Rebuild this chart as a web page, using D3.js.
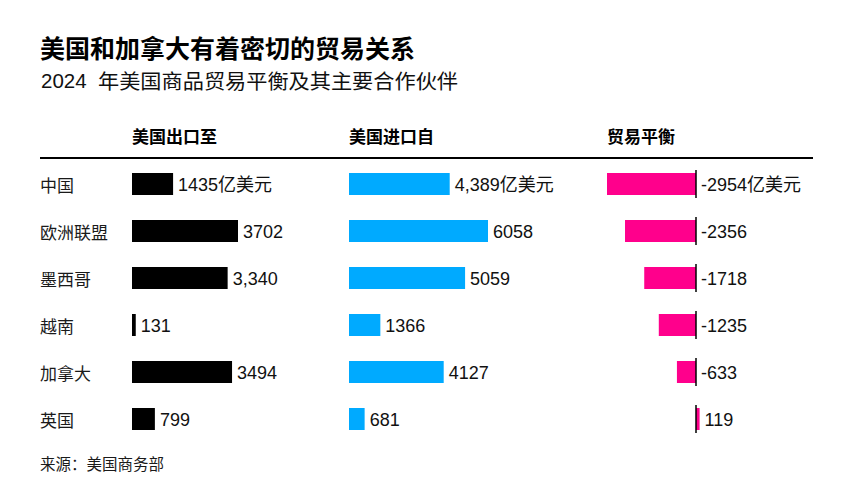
<!DOCTYPE html>
<html>
<head>
<meta charset="utf-8">
<script src="https://cdn.jsdelivr.net/npm/d3@7"></script>
<style>
  html, body { margin: 0; padding: 0; background: #fff; }
  svg { display: block; }
</style>
</head>
<body>
<div id="chart"></div>
<script>
const categories = ["中国", "欧洲联盟", "墨西哥", "越南", "加拿大", "英国"];
const exportsVals = [1435, 3702, 3340, 131, 3494, 799];
const importsVals = [4389, 6058, 5059, 1366, 4127, 681];
const balanceVals = [-2954, -2356, -1718, -1235, -633, 119];
const exportLabels = ["1435亿美元", "3702", "3,340", "131", "3494", "799"];
const importLabels = ["4,389亿美元", "6058", "5059", "1366", "4127", "681"];
const balanceLabels = ["-2954亿美元", "-2356", "-1718", "-1235", "-633", "119"];
const headers = ["美国出口至", "美国进口自", "贸易平衡"];
const title = "美国和加拿大有着密切的贸易关系";
const subtitleYear = "2024";
const subtitleText = "年美国商品贸易平衡及其主要合作伙伴";
const source = "来源：美国商务部";

const W = 864, H = 496;
const CJK = "'Noto Sans CJK SC', 'Noto Sans', sans-serif";
const NUM = "'Liberation Sans', Arial, 'Noto Sans CJK SC', sans-serif";

const svg = d3.select("#chart").append("svg").attr("width", W).attr("height", H);

// Title
svg.append("text").attr("x", 40).attr("y", 47)
  .attr("dominant-baseline", "central")
  .attr("font-family", CJK).attr("font-weight", 700).attr("font-size", 25)
  .attr("fill", "#000").text(title);

// Subtitle
svg.append("text").attr("x", 41).attr("y", 80)
  .attr("dominant-baseline", "central")
  .attr("font-family", NUM).attr("font-size", 20.5)
  .attr("fill", "#111").text(subtitleYear);
svg.append("text").attr("x", 98).attr("y", 80)
  .attr("dominant-baseline", "central")
  .attr("font-family", CJK).attr("font-size", 20)
  .attr("textLength", 360).attr("lengthAdjust", "spacingAndGlyphs")
  .attr("fill", "#111").text(subtitleText);

// Scales
const y = d3.scaleBand().domain(categories)
  .range([160.5, 160.5 + 6 * 47])
  .paddingInner(25 / 47).paddingOuter(12.5 / 47);

const xExp = d3.scaleLinear().domain([0, d3.max(exportsVals)]).range([132, 238]);
const xImp = d3.scaleLinear().domain([0, d3.max(importsVals)]).range([349, 488]);
const xBal = d3.scaleLinear().domain([d3.min(balanceVals), 0]).range([607, 696]);

// Headers
const headerX = [xExp(0), xImp(0), xBal(d3.min(balanceVals))];
svg.selectAll("text.hdr").data(headers).join("text")
  .attr("class", "hdr")
  .attr("x", (d, i) => headerX[i]).attr("y", 135)
  .attr("dominant-baseline", "central")
  .attr("font-family", CJK).attr("font-weight", 700).attr("font-size", 17)
  .attr("fill", "#000").text(d => d);

// Rule
svg.append("line").attr("x1", 40).attr("x2", 813).attr("y1", 158).attr("y2", 158)
  .attr("stroke", "#000").attr("stroke-width", 2);

// Row labels
svg.selectAll("text.cat").data(categories).join("text")
  .attr("class", "cat")
  .attr("x", 40).attr("y", d => y(d) + y.bandwidth() / 2)
  .attr("dominant-baseline", "central")
  .attr("font-family", CJK).attr("font-size", 17)
  .attr("fill", "#1a1a1a").text(d => d);

const rows = categories.map((c, i) => ({
  c, exp: exportsVals[i], imp: importsVals[i], bal: balanceVals[i],
  el: exportLabels[i], il: importLabels[i], bl: balanceLabels[i]
}));

// Export bars
svg.selectAll("rect.exp").data(rows).join("rect")
  .attr("class", "exp")
  .attr("x", xExp(0)).attr("y", d => y(d.c))
  .attr("width", d => xExp(d.exp) - xExp(0)).attr("height", y.bandwidth())
  .attr("fill", "#000");
svg.selectAll("text.expl").data(rows).join("text")
  .attr("class", "expl")
  .attr("x", d => xExp(d.exp) + 5).attr("y", d => y(d.c) + y.bandwidth() / 2 + 1)
  .attr("dominant-baseline", "central")
  .attr("font-family", NUM).attr("font-size", 18).attr("fill", "#111")
  .text(d => d.el);

// Import bars
svg.selectAll("rect.imp").data(rows).join("rect")
  .attr("class", "imp")
  .attr("x", xImp(0)).attr("y", d => y(d.c))
  .attr("width", d => xImp(d.imp) - xImp(0)).attr("height", y.bandwidth())
  .attr("fill", "#00aaff");
svg.selectAll("text.impl").data(rows).join("text")
  .attr("class", "impl")
  .attr("x", d => xImp(d.imp) + 5).attr("y", d => y(d.c) + y.bandwidth() / 2 + 1)
  .attr("dominant-baseline", "central")
  .attr("font-family", NUM).attr("font-size", 18).attr("fill", "#111")
  .text(d => d.il);

// Balance bars
svg.selectAll("rect.bal").data(rows).join("rect")
  .attr("class", "bal")
  .attr("x", d => Math.min(xBal(d.bal), xBal(0))).attr("y", d => y(d.c))
  .attr("width", d => Math.abs(xBal(d.bal) - xBal(0))).attr("height", y.bandwidth())
  .attr("fill", "#ff008c");
svg.selectAll("line.zero").data(rows).join("line")
  .attr("class", "zero")
  .attr("x1", xBal(0)).attr("x2", xBal(0))
  .attr("y1", d => y(d.c) - 3).attr("y2", d => y(d.c) + y.bandwidth() + 3)
  .attr("stroke", "#000").attr("stroke-width", 1.5);
svg.selectAll("text.ball").data(rows).join("text")
  .attr("class", "ball")
  .attr("x", d => Math.max(xBal(d.bal), xBal(0)) + 5).attr("y", d => y(d.c) + y.bandwidth() / 2 + 1)
  .attr("dominant-baseline", "central")
  .attr("font-family", NUM).attr("font-size", 18).attr("fill", "#111")
  .text(d => d.bl);

// Source
svg.append("text").attr("x", 40).attr("y", 463)
  .attr("dominant-baseline", "central")
  .attr("font-family", CJK).attr("font-size", 15.5)
  .attr("fill", "#1a1a1a").text(source);
</script>
</body>
</html>
